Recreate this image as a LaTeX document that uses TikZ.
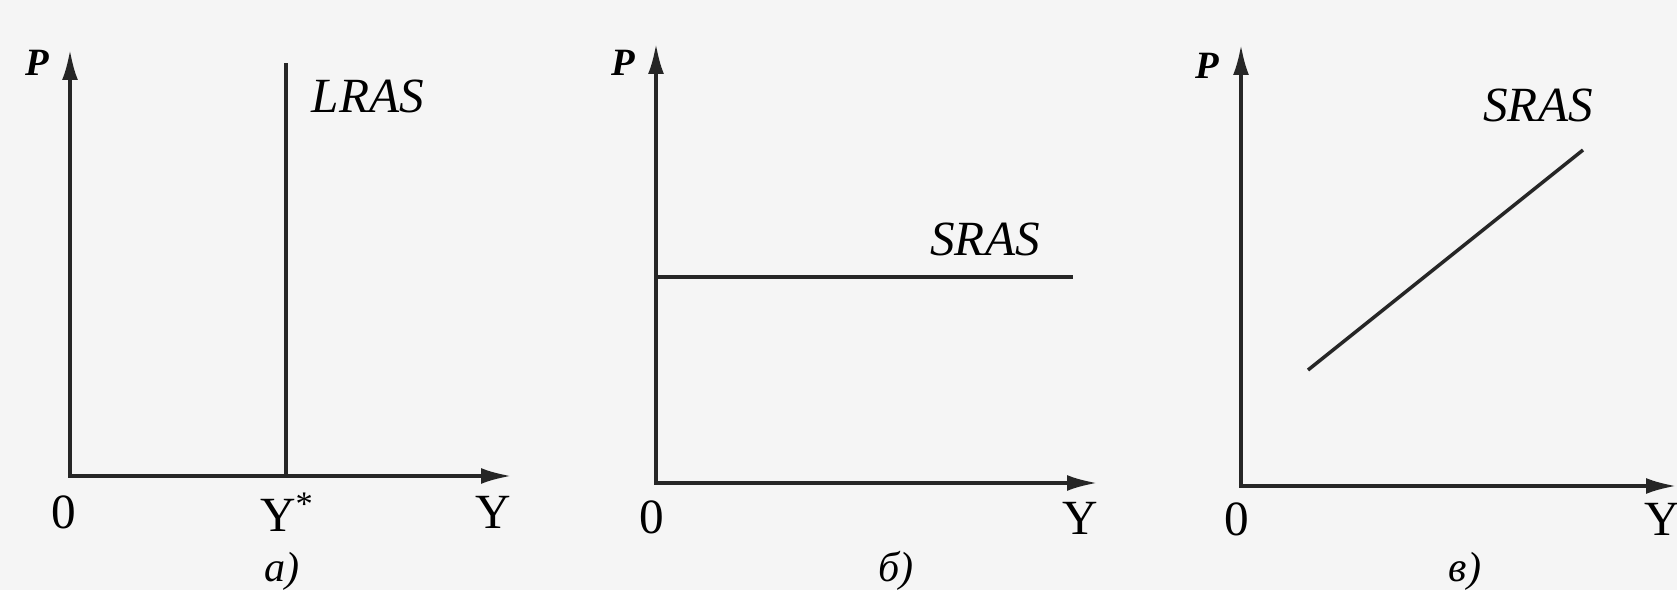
\documentclass[tikz,border=0pt]{standalone}
\usepackage{fontspec}
\setmainfont{Liberation Serif}
\usetikzlibrary{arrows.meta}
\begin{document}
\begin{tikzpicture}[>={Latex[length=17pt,width=9pt]}, x=0.02cm, y=-0.02cm,
    axis/.style={<->, line width=1.8pt, black!85},
    curve/.style={line width=2pt, black!85},
    lbl/.style={font=\fontsize{28}{32}\selectfont\itshape, inner sep=0pt},
    caplbl/.style={font=\fontsize{24}{28}\selectfont\itshape, inner sep=0pt},
    num/.style={font=\fontsize{28}{32}\selectfont, inner sep=0pt},
    plbl/.style={font=\fontsize{22}{24}\selectfont\bfseries\itshape, inner sep=0pt}]
  \clip (0,0) rectangle (1677,590);
  \fill[black!4] (0,0) rectangle (1677,590);
  % a)
  \coordinate (Oa) at (70,476);
  \coordinate (Pa) at (70,50);
  \coordinate (Ya) at (511,476);
  \coordinate (LRtop) at (286,63);
  \coordinate (LRbot) at (286,476);
  \draw[axis] (Pa) -- (Oa) -- (Ya);
  \draw[curve] (LRbot) -- (LRtop);
  \node[plbl] (pa) at (37,63) {P};
  \node[lbl] (lras) at (368,96) {LRAS};
  \node[num] (za) at (64,512) {0};
  \node[num] (ystar) at (287,512) {Y\textsuperscript{*}};
  \node[num] (ya) at (493,512) {Y};
  \node[caplbl] (capa) at (282,571) {а)};
  % b)
  \coordinate (Ob) at (656,483);
  \coordinate (Pb) at (656,44);
  \coordinate (Yb) at (1097,483);
  \coordinate (SRbl) at (656,277);
  \coordinate (SRbr) at (1073,277);
  \draw[axis] (Pb) -- (Ob) -- (Yb);
  \draw[curve] (SRbl) -- (SRbr);
  \node[plbl] (pb) at (623,63) {P};
  \node[lbl] (srasb) at (985,239) {SRAS};
  \node[num] (zb) at (652,517) {0};
  \node[num] (yb) at (1080,518) {Y};
  \node[caplbl] (capb) at (896,571) {б)};
  % c)
  \coordinate (Oc) at (1241,486);
  \coordinate (Pc) at (1241,45);
  \coordinate (Yc) at (1676,486);
  \coordinate (SRcl) at (1308,370);
  \coordinate (SRcr) at (1583,150);
  \draw[axis] (Pc) -- (Oc) -- (Yc);
  \draw[curve] (SRcl) -- (SRcr);
  \node[plbl] (pc) at (1207,66) {P};
  \node[lbl] (srasc) at (1538,105) {SRAS};
  \node[num] (zc) at (1237,519) {0};
  \node[num] (yc) at (1662,519) {Y};
  \node[caplbl] (capc) at (1465,571) {в)};
\end{tikzpicture}
\end{document}
